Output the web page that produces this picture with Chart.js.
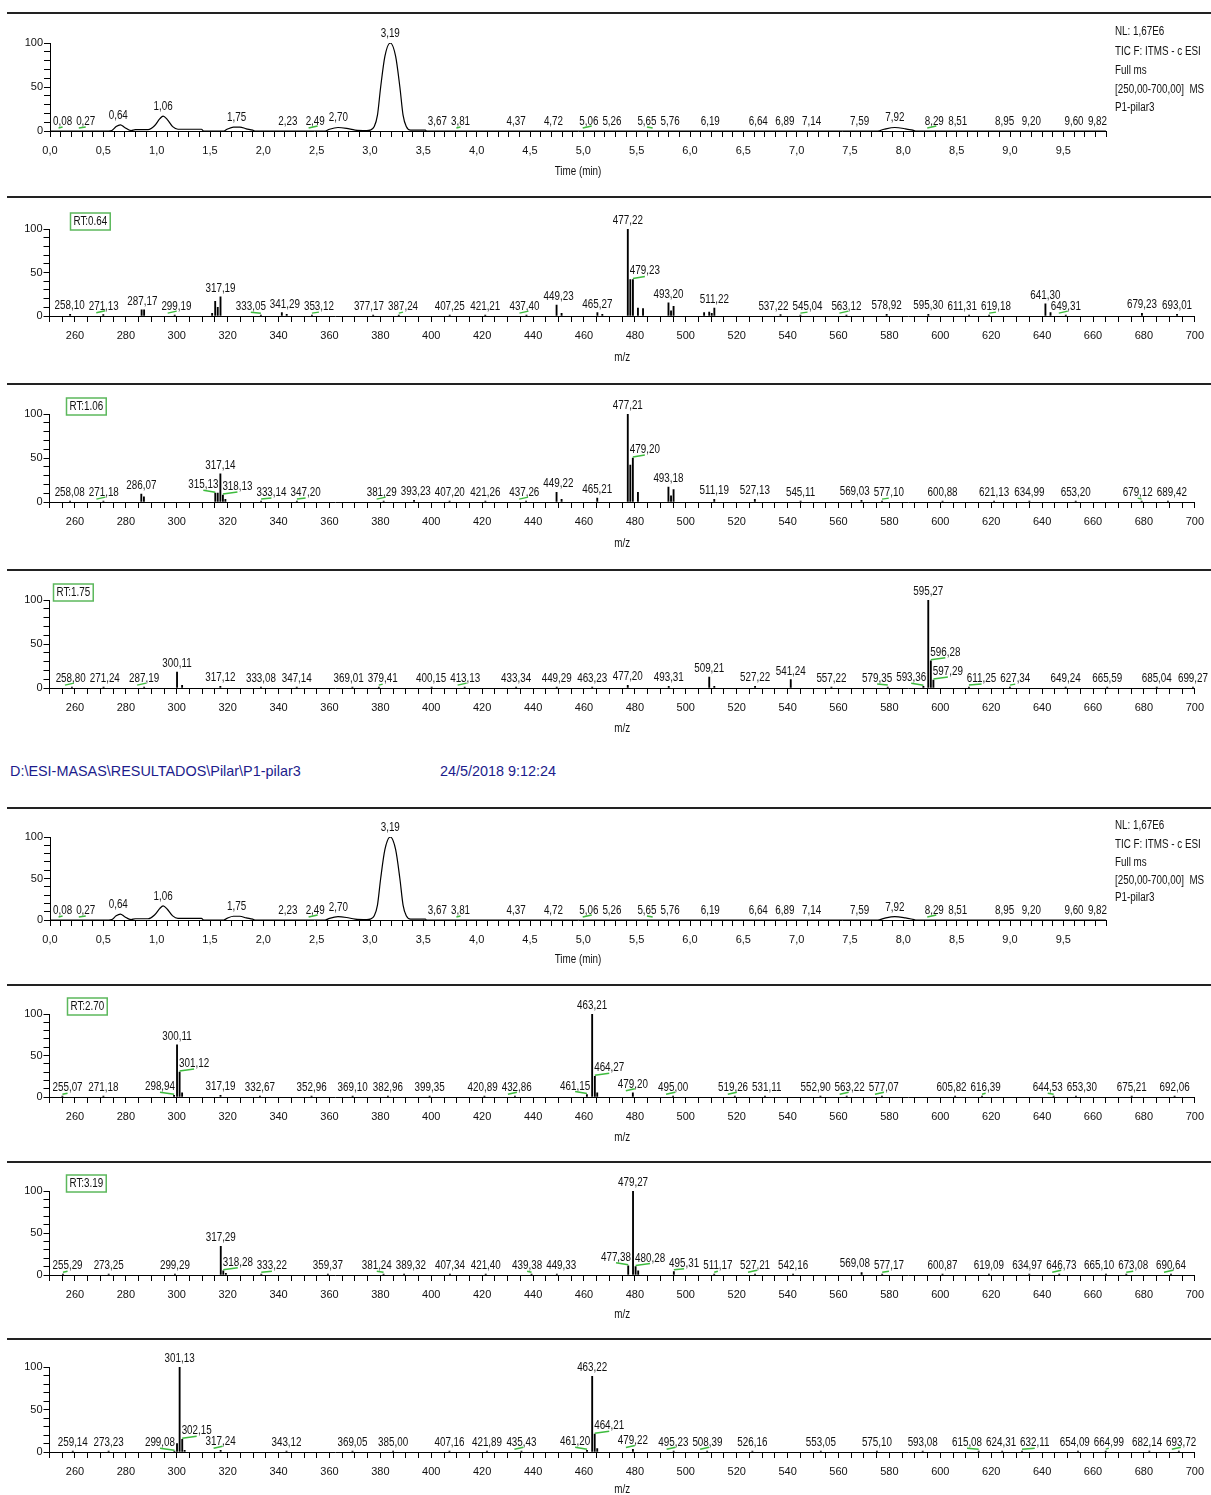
<!DOCTYPE html>
<html>
<head>
<meta charset="utf-8">
<title>P1-pilar3</title>
<script src="https://cdn.jsdelivr.net/npm/chart.js@4.4.1/dist/chart.umd.min.js"></script>
<style>
body { margin: 0; background: #fff; width: 1211px; height: 1495px; position: relative; overflow: hidden; }
canvas { position: absolute; left: 0; }
.hdr { position: absolute; top: 762px; line-height: 18px; font-family: 'Liberation Sans', Arial, sans-serif; font-size: 15px; color: #1c1c8c; white-space: nowrap; transform: scaleX(0.96); transform-origin: 0 0; }
</style>
</head>
<body>
<canvas id="tic1"></canvas>
<canvas id="s064"></canvas>
<canvas id="s106"></canvas>
<canvas id="s175"></canvas>
<div class="hdr" style="left:10px">D:\ESI-MASAS\RESULTADOS\Pilar\P1-pilar3</div>
<div class="hdr" style="left:440px">24/5/2018 9:12:24</div>
<canvas id="tic2"></canvas>
<canvas id="s270"></canvas>
<canvas id="s319"></canvas>
<canvas id="s3xx"></canvas>
<script>
// TIC chromatogram, time (min) / relative abundance
var ticTime = [0.00, 0.55, 0.58, 0.62, 0.66, 0.70, 0.76, 0.80, 0.92, 0.98, 1.03, 1.06, 1.10, 1.15, 1.20, 1.42, 1.44,
  1.63, 1.66, 1.72, 1.78, 1.84, 1.90, 1.92, 2.58, 2.62, 2.70, 2.78, 2.86, 2.97, 3.00, 3.04, 3.07, 3.10, 3.14, 3.19,
  3.24, 3.28, 3.31, 3.34, 3.38, 3.42, 3.52, 3.53, 7.76, 7.82, 7.92, 8.02, 8.10, 8.12, 9.90];
var ticAbund = [0, 0, 0.5, 5, 7, 4, 0.5, 1.5, 1.5, 6, 14, 17, 13, 5, 2, 2, 0,
  0, 2, 4.5, 4.5, 2.5, 1, 0, 0, 2, 4, 3, 1, 0.5, 1, 5, 18, 50, 85, 100,
  85, 50, 18, 5, 1, 1, 1, 0, 0, 2, 4, 2.5, 0.5, 0, 0];
var ticPeakTimes = [0.08, 0.27, 0.64, 1.06, 1.75, 2.23, 2.49, 2.70, 3.19, 3.67, 3.81, 4.37, 4.72, 5.06, 5.26, 5.65,
  5.76, 6.19, 6.64, 6.89, 7.14, 7.59, 7.92, 8.29, 8.51, 8.95, 9.20, 9.60, 9.82];
var ticPeakHeights = [0, 0, 7, 17, 4.5, 0, 0, 4, 100, 0, 0, 0, 0, 0, 0, 0,
  0, 0, 0, 0, 0, 0, 4, 0, 0, 0, 0, 0, 0];
var ticMarks = [0.08, 0.27, 2.49, 3.81, 5.06, 5.65, 8.29];
var ticInfo = ['NL: 1,67E6', 'TIC F: ITMS - c ESI', 'Full ms', '[250,00-700,00]  MS', 'P1-pilar3'];

// spectrum RT 0.64
var s064Mz = [258.10, 271.13, 286.20, 287.17, 299.19, 313.90, 315.10, 316.10, 317.19, 333.05, 341.29, 343.20, 353.12,
  377.17, 387.24, 407.25, 421.21, 437.40, 449.23, 451.20, 465.27, 467.20, 477.22, 478.20, 479.23, 481.20, 483.20,
  493.20, 494.20, 495.20, 507.20, 509.20, 510.20, 511.22, 537.22, 545.04, 563.12, 578.92, 595.30, 611.31, 619.18,
  641.30, 643.30, 649.31, 679.23, 693.01];
var s064Int = [2, 1.5, 7, 7, 1, 3, 17, 10, 22, 1, 4, 2, 1,
  1, 1, 1, 1, 1, 12.5, 3, 4, 2, 100, 42, 42, 9, 8.5,
  15, 6, 11, 4, 4.5, 3, 9, 1.5, 1, 1, 2, 2, 1, 1,
  14, 4, 1, 3, 2];
var s064Labels = [258.10, 271.13, 287.17, 299.19, 317.19, 333.05, 341.29, 353.12, 377.17, 387.24, 407.25, 421.21,
  437.40, 449.23, 465.27, 477.22, 479.23, 493.20, 511.22, 537.22, 545.04, 563.12, 578.92, 595.30, 611.31, 619.18,
  641.30, 649.31, 679.23, 693.01];
var s064Marks = [271.13, 299.19, 333.05, 353.12, 387.24, 437.40, 479.23, 545.04, 563.12, 619.18, 649.31];

// spectrum RT 1.06
var s106Mz = [258.08, 271.18, 286.07, 287.10, 315.13, 316.10, 317.14, 318.13, 319.10, 333.14, 347.20, 381.29, 393.23,
  407.20, 421.26, 437.26, 449.22, 451.20, 465.21, 477.21, 478.20, 479.20, 481.20, 493.18, 494.20, 495.20, 511.19,
  527.13, 545.11, 569.03, 577.10, 600.88, 621.13, 634.99, 653.20, 679.12, 689.42];
var s106Int = [1, 1, 9, 6, 10, 10, 32, 8, 3, 1, 1, 1, 2,
  1, 1, 1, 11, 3, 4.5, 100, 42, 50, 11, 17, 7, 14, 3,
  3, 1, 2, 1, 1, 1, 1, 1, 1, 1];
var s106Labels = [258.08, 271.18, 286.07, 315.13, 317.14, 318.13, 333.14, 347.20, 381.29, 393.23, 407.20, 421.26,
  437.26, 449.22, 465.21, 477.21, 479.20, 493.18, 511.19, 527.13, 545.11, 569.03, 577.10, 600.88, 621.13, 634.99,
  653.20, 679.12, 689.42];
var s106Marks = [271.18, 315.13, 318.13, 333.14, 347.20, 381.29, 437.26, 479.20, 577.10, 679.12];

// spectrum RT 1.75
var s175Mz = [258.80, 271.24, 287.19, 300.11, 302.10, 317.12, 333.08, 347.14, 369.01, 379.41, 400.15, 413.13, 433.34,
  449.29, 463.23, 477.20, 493.31, 509.21, 511.20, 527.22, 541.24, 557.22, 579.35, 593.36, 595.27, 596.28, 597.29,
  611.25, 627.34, 649.24, 665.59, 685.04, 699.27];
var s175Int = [1, 1, 1, 18, 3, 2, 1, 1, 1, 1, 1, 1, 1,
  1, 1, 3, 2, 12.5, 2, 2, 9.5, 1, 1, 2, 100, 31, 9,
  1, 1, 1, 1, 1, 1];
var s175Labels = [258.80, 271.24, 287.19, 300.11, 317.12, 333.08, 347.14, 369.01, 379.41, 400.15, 413.13, 433.34,
  449.29, 463.23, 477.20, 493.31, 509.21, 527.22, 541.24, 557.22, 579.35, 593.36, 595.27, 596.28, 597.29, 611.25,
  627.34, 649.24, 665.59, 685.04, 699.27];
var s175Marks = [258.80, 287.19, 379.41, 413.13, 579.35, 593.36, 596.28, 597.29, 611.25, 627.34];

// spectrum RT 2.70
var s270Mz = [255.07, 271.18, 298.94, 300.11, 301.12, 302.10, 317.19, 332.67, 352.96, 369.10, 382.96, 399.35, 420.89,
  432.86, 461.15, 463.21, 464.27, 465.20, 479.20, 495.00, 519.26, 531.11, 552.90, 563.22, 577.07, 605.82, 616.39,
  644.53, 653.30, 675.21, 692.06];
var s270Int = [1, 1, 2, 63, 30, 5, 2, 1, 1, 1, 1, 1, 1,
  1, 3, 100, 25, 5, 5, 1, 1, 1, 1, 1, 1, 1, 1,
  1, 1, 1, 1];
var s270Labels = [255.07, 271.18, 298.94, 300.11, 301.12, 317.19, 332.67, 352.96, 369.10, 382.96, 399.35, 420.89,
  432.86, 461.15, 463.21, 464.27, 479.20, 495.00, 519.26, 531.11, 552.90, 563.22, 577.07, 605.82, 616.39, 644.53,
  653.30, 675.21, 692.06];
var s270Marks = [255.07, 298.94, 301.12, 432.86, 461.15, 464.27, 479.20, 495.00, 519.26, 563.22, 577.07, 616.39, 644.53];

// spectrum RT 3.19
var s319Mz = [255.29, 273.25, 299.29, 317.29, 318.28, 319.30, 333.22, 359.37, 381.24, 389.32, 407.34, 421.40, 439.38,
  449.33, 477.38, 479.27, 480.28, 481.30, 495.31, 511.17, 527.21, 542.16, 569.08, 577.17, 600.87, 619.09, 634.97,
  646.73, 665.10, 673.08, 690.64];
var s319Int = [1, 1, 1, 34, 5, 2, 1, 1, 1, 1, 1, 1, 1,
  1, 11, 100, 10, 5, 4, 1, 1, 1, 3, 1, 1, 1, 1,
  1, 1, 1, 1];
var s319Labels = [255.29, 273.25, 299.29, 317.29, 318.28, 333.22, 359.37, 381.24, 389.32, 407.34, 421.40, 439.38,
  449.33, 477.38, 479.27, 480.28, 495.31, 511.17, 527.21, 542.16, 569.08, 577.17, 600.87, 619.09, 634.97, 646.73,
  665.10, 673.08, 690.64];
var s319Marks = [255.29, 318.28, 333.22, 381.24, 439.38, 477.38, 480.28, 495.31, 511.17, 527.21, 577.17, 646.73,
  673.08, 690.64];

// last spectrum (no RT box)
var s3xxMz = [259.14, 273.23, 299.08, 300.10, 301.13, 302.15, 303.10, 317.24, 343.12, 369.05, 385.00, 407.16, 421.89,
  435.43, 461.20, 463.22, 464.21, 465.20, 479.22, 495.23, 508.39, 526.16, 553.05, 575.10, 593.08, 615.08, 624.31,
  632.11, 654.09, 664.99, 682.14, 693.72];
var s3xxInt = [1, 1, 1, 10, 100, 15, 2, 2, 1, 1, 1, 1, 1,
  1, 2, 89, 21, 4, 3, 1, 1, 1, 1, 1, 1, 1, 1,
  1, 1, 1, 1, 1];
var s3xxLabels = [259.14, 273.23, 299.08, 301.13, 302.15, 317.24, 343.12, 369.05, 385.00, 407.16, 421.89, 435.43,
  461.20, 463.22, 464.21, 479.22, 495.23, 508.39, 526.16, 553.05, 575.10, 593.08, 615.08, 624.31, 632.11, 654.09,
  664.99, 682.14, 693.72];
var s3xxMarks = [299.08, 302.15, 317.24, 435.43, 461.20, 464.21, 479.22, 495.23, 508.39, 615.08, 632.11, 664.99, 693.72];

var FONT = "'Liberation Sans', Arial, sans-serif";
var SQ = 0.82; // horizontal squeeze, narrow look
var GREEN = '#3dbb3d';
Chart.defaults.font.family = FONT;
Chart.defaults.font.size = 11;
Chart.defaults.color = '#111';

function fmt(v, d) { return v.toFixed(d).replace('.', ','); }

function textW(ctx, s) { return ctx.measureText(s).width * SQ; }

// draw narrow text with its left edge at x
function narrow(ctx, s, x, y) {
  ctx.save();
  ctx.translate(x, y);
  ctx.scale(SQ, 1);
  ctx.textAlign = 'left';
  ctx.fillText(s, 0, 0);
  ctx.restore();
}

function topLine(ctx, y) {
  ctx.strokeStyle = '#222';
  ctx.lineWidth = 2;
  ctx.beginPath();
  ctx.moveTo(7, y);
  ctx.lineTo(1211, y);
  ctx.stroke();
}

function drawMark(ctx, x1, y1, x2, y2) {
  ctx.strokeStyle = GREEN;
  ctx.lineWidth = 1.5;
  ctx.beginPath();
  ctx.moveTo(x1, y1);
  ctx.lineTo(x2, y2);
  ctx.stroke();
}

// push overlapping labels of similar height apart
// lock: 1 = may not move left, -1 = may not move right
function spread(items, minLeft) {
  items.forEach(function (o) {
    if (o.left < minLeft) { o.left = minLeft; o.lock = 1; o.edge = true; }
  });
  var sorted = items.slice();
  for (var it = 0; it < 40; it++) {
    var moved = false;
    sorted.sort(function (p, q) { return p.left - q.left; });
    for (var k = 0; k < sorted.length; k++) {
      for (var j = k + 1; j < sorted.length; j++) {
        var p = sorted[k], q = sorted[j];
        if (Math.abs(p.yb - q.yb) >= 11) continue;
        var ov = p.left + p.w + 4 - q.left;
        if (ov <= 0.1) continue;
        var pl = p.lock !== 1, qr = q.lock !== -1;
        if (!pl && !qr) continue;
        var dp = pl && qr ? ov / 2 : (pl ? ov : 0);
        if (pl && p.left - dp < minLeft) dp = Math.max(0, p.left - minLeft);
        var dq = ov - dp;
        p.left -= dp;
        q.left += dq;
        moved = true;
      }
    }
    if (!moved) break;
  }
}

function drawLabels(ctx, items) {
  items.forEach(function (o) {
    ctx.fillStyle = '#111';
    narrow(ctx, o.text, o.left, o.yb);
    if (!o.mark) return;
    var c = o.left + o.w / 2;
    if (o.lock !== 0 && !o.edge) drawMark(ctx, o.px, o.pt - 1, c, o.yb + 2);
    else if (Math.abs(c - o.px) > 3) drawMark(ctx, o.px, o.yb + 3, c, o.yb + 2);
    else drawMark(ctx, o.px - 7, o.yb + 3, o.px + 2, o.yb + 1);
  });
}

function makePanel(id, geo, type, datasets, xo, draw) {
  var canvas = document.getElementById(id);
  var top = geo.line - 3;
  var h = geo.title + 9 - top;
  canvas.width = 1211;
  canvas.height = h;
  canvas.style.top = top + 'px';
  var tickGrid = function (len) {
    return { drawOnChartArea: false, drawTicks: true, tickLength: len, color: '#000', lineWidth: 1, offset: false };
  };
  return new Chart(canvas, {
    type: type,
    data: { datasets: datasets },
    options: {
      responsive: false,
      animation: false,
      devicePixelRatio: 1,
      layout: { padding: { left: xo.left - 40, right: 1211 - xo.right, top: geo.y100 - top, bottom: h - (geo.y0 - top) - 28 } },
      plugins: { legend: { display: false }, tooltip: { enabled: false } },
      scales: {
        x: {
          type: 'linear', min: xo.min, max: xo.max, offset: false,
          afterFit: function (s) { s.height = 28; },
          grid: tickGrid(6),
          border: { color: '#000', width: 1 },
          ticks: { stepSize: xo.step, autoSkip: false, maxRotation: 0, padding: 7, callback: xo.label }
        },
        y: {
          min: 0, max: 100,
          afterFit: function (s) { s.width = 40; },
          grid: tickGrid(6),
          border: { color: '#000', width: 1 },
          ticks: { stepSize: 10, autoSkip: false, padding: 1, callback: function (v) { return v % 50 === 0 ? v : ''; } }
        }
      }
    },
    plugins: [{ id: 'decor_' + id, afterDraw: function (chart) { draw(chart, top); } }]
  });
}

// ---- chromatogram ----
function ticPanel(id, geo) {
  var pts = ticTime.map(function (t, i) { return { x: t, y: ticAbund[i] }; });
  var ds = [{ data: pts, borderColor: '#000', borderWidth: 1.2, pointRadius: 0, cubicInterpolationMode: 'monotone', fill: false }];
  var xo = {
    min: 0, max: 9.9, step: 0.1, left: 50, right: 1106,
    label: function (v) { var t = Math.round(v * 10); return (t % 5 === 0 && t <= 95) ? fmt(t / 10, 1) : ''; }
  };
  makePanel(id, geo, 'line', ds, xo, function (chart, top) {
    var ctx = chart.ctx, xs = chart.scales.x, ys = chart.scales.y, a = chart.chartArea;
    ctx.save();
    topLine(ctx, geo.line - top);
    ctx.font = '12px ' + FONT;
    ctx.textBaseline = 'alphabetic';
    var items = ticPeakTimes.map(function (t, i) {
      var px = xs.getPixelForValue(t);
      var pt = ys.getPixelForValue(ticPeakHeights[i]);
      var s = fmt(t, 2);
      var w = textW(ctx, s);
      return { text: s, px: px, pt: pt, w: w, left: px - w / 2, yb: pt - 6, lock: 0, mark: ticMarks.indexOf(t) >= 0 };
    });
    spread(items, a.left + 3);
    drawLabels(ctx, items);
    ctx.fillStyle = '#111';
    ctx.textBaseline = 'middle';
    var offs = [19, 39, 58, 77, 95];
    var f = (geo.y0 - geo.y100) / 88;
    ticInfo.forEach(function (s, i) {
      narrow(ctx, s, 1115, geo.line - top + offs[i] * f);
    });
    var tt = 'Time (min)';
    narrow(ctx, tt, (a.left + a.right) / 2 - textW(ctx, tt) / 2, geo.title - top);
    ctx.restore();
  });
}

// ---- mass spectrum ----
function specPanel(id, geo, rt, mz, ab, labels, marks) {
  var pts = mz.map(function (m, i) { return { x: m, y: ab[i] }; });
  var ds = [{ data: pts, backgroundColor: '#000', borderWidth: 0, barThickness: 1.2 }];
  var xo = {
    min: 250, max: 700, step: 5, left: 49.5, right: 1198,
    label: function (v) { return v % 20 === 0 ? String(v) : ''; }
  };
  makePanel(id, geo, 'bar', ds, xo, function (chart, top) {
    var ctx = chart.ctx, xs = chart.scales.x, ys = chart.scales.y, a = chart.chartArea;
    ctx.save();
    topLine(ctx, geo.line - top);
    ctx.font = '12px ' + FONT;
    ctx.textBaseline = 'alphabetic';
    var items = labels.map(function (m) {
      var i = mz.indexOf(m);
      var px = xs.getPixelForValue(m);
      var pt = ys.getPixelForValue(ab[i]);
      var text = fmt(m, 2);
      var w = textW(ctx, text);
      var yb = pt - 5;
      var left = px - w / 2;
      var bl = null, br = null;
      mz.forEach(function (m2, j) {
        if (j === i) return;
        var bx = xs.getPixelForValue(m2);
        if (ys.getPixelForValue(ab[j]) >= yb) return;
        if (bx < px && bx > left - 1) bl = bl === null ? bx : Math.max(bl, bx);
        if (bx > px && bx < left + w + 1) br = br === null ? bx : Math.min(br, bx);
      });
      var lock = 0;
      if (bl !== null) { left = bl + 2; lock = 1; }
      else if (br !== null) { left = br - 2 - w; lock = -1; }
      return { text: text, px: px, pt: pt, w: w, left: left, yb: yb, lock: lock, mark: marks.indexOf(m) >= 0 };
    });
    spread(items, a.left + 3);
    drawLabels(ctx, items);
    if (rt) {
      var tw = textW(ctx, rt);
      var bx = a.left + geo.rtX, by = geo.y100 - top - 16;
      ctx.strokeStyle = '#5cb85c';
      ctx.lineWidth = 1.5;
      ctx.strokeRect(bx, by, tw + 6, 17);
      ctx.fillStyle = '#111';
      ctx.textBaseline = 'middle';
      narrow(ctx, rt, bx + 3, by + 9);
    }
    ctx.fillStyle = '#111';
    ctx.textBaseline = 'middle';
    narrow(ctx, 'm/z', (a.left + a.right) / 2 - textW(ctx, 'm/z') / 2, geo.title - top);
    ctx.restore();
  });
}

ticPanel('tic1', { line: 13, y100: 43, y0: 131, title: 172 });
specPanel('s064', { line: 197, y100: 229, y0: 316, title: 358, rtX: 21 }, 'RT:0.64', s064Mz, s064Int, s064Labels, s064Marks);
specPanel('s106', { line: 384, y100: 414, y0: 502, title: 544, rtX: 17 }, 'RT:1.06', s106Mz, s106Int, s106Labels, s106Marks);
specPanel('s175', { line: 570, y100: 600, y0: 688, title: 729, rtX: 4 }, 'RT:1.75', s175Mz, s175Int, s175Labels, s175Marks);
ticPanel('tic2', { line: 808, y100: 837, y0: 920, title: 960 });
specPanel('s270', { line: 985, y100: 1014, y0: 1097, title: 1138, rtX: 18 }, 'RT:2.70', s270Mz, s270Int, s270Labels, s270Marks);
specPanel('s319', { line: 1162, y100: 1191, y0: 1275, title: 1315, rtX: 17 }, 'RT:3.19', s319Mz, s319Int, s319Labels, s319Marks);
specPanel('s3xx', { line: 1339, y100: 1367, y0: 1452, title: 1490, rtX: 0 }, null, s3xxMz, s3xxInt, s3xxLabels, s3xxMarks);
</script>
</body>
</html>
